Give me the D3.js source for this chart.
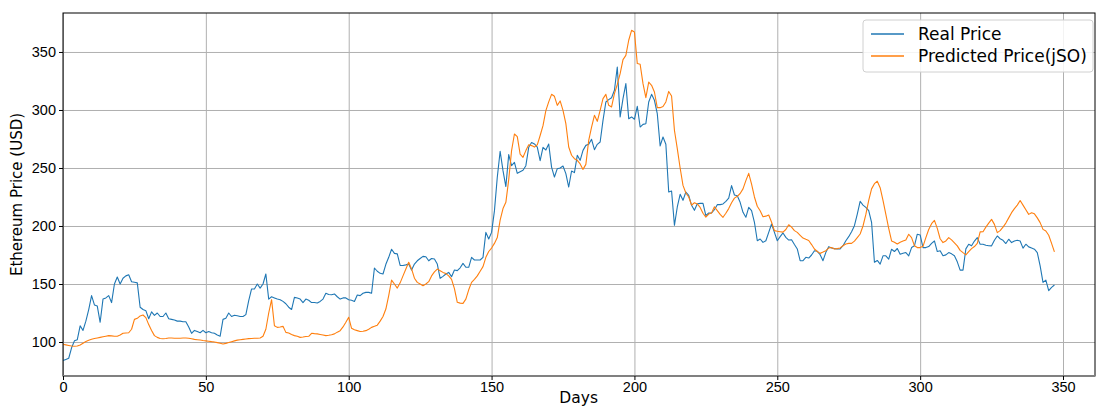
<!DOCTYPE html>
<html>
<head>
<meta charset="utf-8">
<script src="https://cdn.jsdelivr.net/npm/d3@7"></script>
<style>
  body { margin: 0; background: #fff; }
  svg { display: block; font-family: "DejaVu Sans", sans-serif; }
  .axis text { font-size: 14.5px; fill: #000; }
  .grid line { stroke: #b0b0b0; stroke-width: 1; }
  .grid path { display: none; }
</style>
</head>
<body>
<script>
// Real and predicted Ethereum price, one value per day (index = day)
const realPrice = [
  84, 85, 86, 95, 101, 102, 114, 110, 118, 128,
  140, 132, 131, 117, 137, 138, 140, 134, 150, 156,
  150, 155, 157, 158, 152, 151.5, 151, 130, 128, 127,
  120, 126, 123, 125, 122, 122, 125, 120, 119.5, 119,
  118, 118, 117.5, 117.5, 113, 107.5, 110, 109, 108, 110,
  108, 109, 108, 107.5, 106, 105, 119.5, 120.4, 125, 122,
  123, 122.7, 122, 122, 123.6, 135.6, 145.7, 145.7, 150, 146.5,
  150, 158.6, 137, 139, 138, 137, 136.5, 135, 133, 130,
  128, 138.5, 138, 137, 134, 137, 136, 134, 134, 133.6,
  135, 137, 142, 141, 140.8, 141.4, 139, 137, 138, 138,
  136.5, 136, 135, 140.5, 140, 142, 142.8, 142.8, 142, 163.8,
  161, 159.2, 158.6, 167, 173, 180, 176.4, 176, 166, 166,
  166.5, 167.2, 162, 167.2, 170, 172, 173.8, 173.5, 170, 172,
  171.5, 167.2, 154.9, 156.6, 158.6, 160, 156.3, 162, 161.5, 164,
  167.8, 164.4, 164.4, 173, 170.7, 170.7, 170.7, 173, 194.5, 188.8,
  194.5, 213, 242, 264.4, 247.7, 234, 261.5, 252, 254.9, 245.4,
  246.8, 248, 252, 267.8, 272, 270.7, 268, 256.3, 267.8, 265.5,
  270.7, 250.8, 242.2, 249.4, 250, 251.7, 245.1, 233.6, 247.4, 246,
  260.9, 256.6, 265.2, 269.5, 270.4, 274.7, 265.8, 270.4, 272.4, 291,
  306.9, 308.9, 310.6, 317, 337.1, 294, 309.8, 322.7, 292.5, 294,
  292, 303.2, 285.3, 287.6, 288.2, 306.9, 313.5, 308.3, 296.8, 269,
  276.7, 270.4, 229.3, 230.2, 200.6, 216.4, 227.3, 222.1, 229.3, 226.4,
  217.8, 213.5, 219.2, 219.5, 219.5, 208.9, 211.2, 211.2, 214, 218.4,
  218.4, 219, 221.3, 224.1, 234.8, 226.7, 226.1, 220.4, 211.8, 207.5,
  216.1, 213.2, 203.2, 187.3, 188.8, 185.9, 187.3, 194.5, 201.7, 194.5,
  187.3, 190.8, 194, 190.2, 187.9, 188.2, 184, 180.2, 170.1, 170.1,
  173, 172.4, 175, 178.7, 178.2, 175.3, 170.1, 177.3, 182.2, 181.1,
  180.5, 180.2, 180.2, 183, 187.3, 190.8, 195, 200.3, 210.3, 221.3,
  218, 216.1, 213.2, 203.2, 168.7, 170.3, 167.1, 174.3, 174.3, 171.4,
  180, 178, 180.6, 175.7, 176.5, 177.1, 174.3, 181.4, 182.9, 192.9,
  192.3, 181.4, 181.4, 182.3, 185, 187.1, 178, 178.6, 174.3, 175.1,
  177.1, 176, 174.3, 169.1, 162, 162, 180.3, 184.3, 182.9, 187,
  190, 184.3, 184.3, 183.4, 183, 182.9, 187.7, 191.4, 189, 187.7,
  184.9, 188.6, 185.7, 187, 187.7, 187.1, 180.9, 184.3, 182, 181,
  180, 177.1, 165.7, 151.4, 153.4, 144.3, 147.1, 149.1
];

const predPrice = [
  98, 97.5, 97, 96.5, 96.3, 96.5, 97.5, 99, 100.5, 101.5,
  102.3, 103, 103.5, 104, 104.5, 105, 105.5, 105.3, 105, 105,
  106, 107.5, 107.8, 108, 111, 119.5, 120.4, 122.5, 123.3, 121,
  115, 110, 105.5, 104, 103, 102.8, 103, 103.4, 103.4, 103.2,
  103.2, 103.3, 103.4, 103.4, 103.2, 102.8, 102.3, 102, 101.7, 101.3,
  101, 100.7, 100.3, 100, 99.5, 99, 98.3, 98.8, 99.5, 100.3,
  101, 101.6, 102, 102.3, 102.6, 102.9, 103, 103.2, 103.3, 103.4,
  104.9, 111, 125, 136.5, 114, 112.6, 113, 113.5, 108.3, 107.8,
  106.5, 105.5, 104.9, 104, 104.3, 104.7, 104.9, 107.5, 107.2, 107,
  106.5, 106, 105.5, 105.8, 106.3, 107, 108.5, 109.8, 113, 117,
  121.3, 111.8, 110.5, 109.8, 109, 109.3, 109.8, 111, 112.6, 113.5,
  114.5, 118, 122, 128.4, 140, 153.4, 150, 146.5, 151, 157,
  163, 168.7, 163, 155, 151.4, 150, 148.5, 150, 152, 157,
  160.5, 162.9, 161.5, 160, 159, 157, 154, 146, 134.2, 133.5,
  133.3, 137, 145, 151.4, 154, 157, 161, 165, 173, 178,
  181, 185, 190, 205, 215, 220.4, 240, 265, 279.3, 277,
  262, 259.2, 265, 270, 269.3, 268, 270, 278, 286.5, 299.4,
  307, 313.5, 311.8, 304, 307.8, 299.7, 288.2, 268.1, 261, 258,
  256.6, 253.5, 248.8, 253.1, 273.8, 285.3, 295.4, 290.2, 299.7, 309.8,
  313.5, 304, 302.6, 314.1, 322, 331.3, 343.4, 347.1, 360.1, 368.7,
  367.2, 340, 339.4, 322.7, 310.6, 324.1, 321.3, 315.5, 302, 302,
  303, 306.9, 316, 312, 282.5, 266.7, 250, 235, 228.4, 225,
  218, 220, 219, 216, 211, 207.7, 210.3, 211.2, 216.5, 213.2,
  210, 207.5, 211, 215, 220, 224, 225.6, 228, 232, 239.1,
  245.4, 236, 225, 217, 213.2, 208, 208.5, 209.5, 203.2, 196,
  195.5, 195.1, 194.7, 197, 201.1, 199, 196, 194.5, 192, 189.6,
  188.5, 187.5, 184, 180.2, 178, 176.4, 177.5, 178.7, 181, 181.5,
  180.2, 180.5, 181.1, 183, 184.5, 185, 185, 187, 190, 193.1,
  200, 210, 222, 232, 236.5, 238.6, 233, 222, 210, 198,
  187.1, 186, 184.5, 186, 187, 188, 192.9, 190, 183, 181.4,
  181.4, 182.5, 190, 197, 202, 204.9, 198, 189, 185.7, 187.1,
  190, 188, 185.5, 182.9, 179, 177, 175.1, 178, 180.5, 182.3,
  185, 194.9, 195, 199, 202.5, 205.7, 201.4, 194.3, 196, 199,
  202.5, 207, 211.5, 215, 218, 222, 218, 214, 210, 211.4,
  210.5, 207, 202.9, 197.1, 195.7, 192, 185, 177.7
];

const xTicks = [0, 50, 100, 150, 200, 250, 300, 350];
const yTicks = [100, 150, 200, 250, 300, 350];
const seriesNames = ["Real Price", "Predicted Price(jSO)"];
const seriesColors = ["#1f77b4", "#ff7f0e"];

// --- SVG Setup ---
const W = 1096, H = 408;
const margin = { top: 13, right: 1, bottom: 32, left: 63 };
const width = W - margin.left - margin.right;
const height = H - margin.top - margin.bottom;

const svg = d3.select("body").append("svg")
    .attr("width", W)
    .attr("height", H);
const g = svg.append("g")
    .attr("transform", `translate(${margin.left}, ${margin.top})`);

// Scales
const xScale = d3.scaleLinear().domain([0, 361.2]).range([0, width]);
const yScale = d3.scaleLinear().domain([70.7, 383.6]).range([height, 0]);

// Grid
g.append("g").attr("class", "grid")
    .attr("transform", `translate(0, ${height})`)
    .call(d3.axisBottom(xScale).tickValues(xTicks).tickSize(-height).tickFormat(""));
g.append("g").attr("class", "grid")
    .call(d3.axisLeft(yScale).tickValues(yTicks).tickSize(-width).tickFormat(""));

// Lines
const line = d3.line()
    .x((d, i) => xScale(i))
    .y(d => yScale(d));

[realPrice, predPrice].forEach((series, k) => {
    g.append("path")
        .datum(series)
        .attr("fill", "none")
        .attr("stroke", seriesColors[k])
        .attr("stroke-width", 1.1)
        .attr("stroke-linejoin", "round")
        .attr("d", line);
});

// Frame
g.append("rect")
    .attr("width", width).attr("height", height)
    .attr("fill", "none").attr("stroke", "#000").attr("stroke-width", 1);
g.append("line")
    .attr("x1", 0).attr("x2", width)
    .attr("y1", height).attr("y2", height)
    .attr("stroke", "#808080").attr("stroke-width", 2);

// Axes
const xAxis = g.append("g").attr("class", "axis")
    .attr("transform", `translate(0, ${height})`)
    .call(d3.axisBottom(xScale).tickValues(xTicks).tickSize(4).tickPadding(2));
const yAxis = g.append("g").attr("class", "axis")
    .call(d3.axisLeft(yScale).tickValues(yTicks).tickSize(4).tickPadding(3));
[xAxis, yAxis].forEach(a => {
    a.select(".domain").remove();
    a.selectAll(".tick line").attr("stroke", "#000");
});

// Axis Labels
svg.append("text")
    .attr("x", margin.left + xScale(180.5))
    .attr("y", 403)
    .attr("text-anchor", "middle")
    .style("font-size", "15.5px")
    .text("Days");

svg.append("text")
    .attr("transform", `translate(22, ${margin.top + height / 2}) rotate(-90)`)
    .attr("text-anchor", "middle")
    .style("font-size", "15px")
    .text("Ethereum Price (USD)");

// Legend
const legend = svg.append("g").attr("transform", "translate(863, 20)");
legend.append("rect")
    .attr("width", 230).attr("height", 52)
    .attr("rx", 3)
    .attr("fill", "#fff").attr("fill-opacity", 0.85)
    .attr("stroke", "#d0d0d0");
seriesNames.forEach((name, i) => {
    const row = legend.append("g").attr("transform", `translate(0, ${14 + i * 22})`);
    row.append("line")
        .attr("x1", 8).attr("x2", 41)
        .attr("stroke", seriesColors[i]).attr("stroke-width", 1.3);
    row.append("text")
        .attr("x", 55).attr("y", 6)
        .style("font-size", "17px")
        .text(name);
});
</script>
</body>
</html>
